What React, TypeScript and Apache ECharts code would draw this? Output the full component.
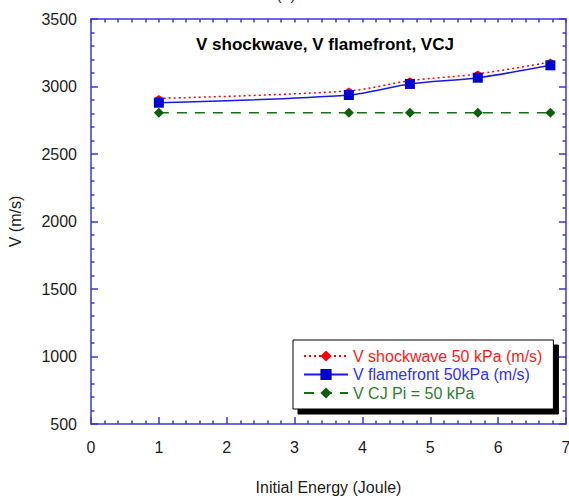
import React, { useEffect, useRef } from "react";
import * as echarts from "echarts";

const xValues = [1, 3.8, 4.7, 5.7, 6.77];
const shockwave = [2912, 2967, 3043, 3093, 3181];
const flamefront = [2880, 2937, 3019, 3065, 3157];
const vcj = [2805, 2805, 2805, 2805, 2805];

const seriesNames = [
  "V shockwave 50 kPa (m/s)",
  "V flamefront 50kPa (m/s)",
  "V CJ Pi = 50 kPa",
];

const FONT = "'Liberation Sans', Arial, sans-serif";
const AXIS_BLUE = "#3838d8";
const TEXT = "#1c1c1c";

export default function App() {
  const ref = useRef<HTMLDivElement>(null);

  useEffect(() => {
    if (!ref.current) return;
    const chart = echarts.init(ref.current, null, { renderer: "svg" });

    const pair = (ys: number[]) => xValues.map((x, i) => [x, ys[i]]);

    const tickStyle = { color: AXIS_BLUE, width: 1.5 };

    const baseX = {
      type: "value",
      min: 0,
      max: 7,
      interval: 1,
      splitLine: { show: false },
      minorSplitLine: { show: false },
      axisLine: { show: true, onZero: false, lineStyle: { color: AXIS_BLUE, width: 1.5 } },
    };
    const baseY = {
      type: "value",
      min: 500,
      max: 3500,
      interval: 500,
      splitLine: { show: false },
      minorSplitLine: { show: false },
      axisLine: { show: true, onZero: false, lineStyle: { color: AXIS_BLUE, width: 1.5 } },
    };

    chart.setOption({
      animation: false,
      backgroundColor: "#ffffff",
      textStyle: { fontFamily: FONT },
      title: {
        text: "V shockwave, V flamefront, VCJ",
        left: 196,
        top: 36,
        padding: 0,
        textStyle: { fontFamily: FONT, fontSize: 17, fontWeight: "bold", color: "#000" },
      },
      graphic: [
        {
          type: "text",
          x: 286,
          y: 2,
          style: {
            text: "(a)",
            fontFamily: FONT,
            fontSize: 16,
            fill: "#333",
            align: "center",
            verticalAlign: "bottom",
          },
        },
      ],
      grid: {
        left: 91,
        right: 3,
        top: 19,
        bottom: 72,
        containLabel: false,
        outerBoundsMode: "none",
      },
      xAxis: [
        {
          ...baseX,
          position: "bottom",
          name: "Initial Energy (Joule)",
          nameLocation: "middle",
          nameGap: 55,
          nameTextStyle: { fontFamily: FONT, fontSize: 16, color: TEXT },
          axisTick: { show: true, inside: true, length: 7, lineStyle: tickStyle },
          minorTick: { show: true, splitNumber: 5, length: 3.5, lineStyle: tickStyle },
          axisLabel: {
            margin: 15,
            fontFamily: FONT,
            fontSize: 16,
            color: TEXT,
            hideOverlap: false,
            formatter: (v: number) => String(v),
          },
        },
        {
          ...baseX,
          position: "top",
          axisTick: { show: true, inside: true, length: 3.5, lineStyle: tickStyle },
          minorTick: { show: true, splitNumber: 5, length: 3.5, lineStyle: tickStyle },
          axisLabel: { show: false },
        },
      ],
      yAxis: [
        {
          ...baseY,
          position: "left",
          name: "V (m/s)",
          nameLocation: "middle",
          nameGap: 68,
          nameTextStyle: { fontFamily: FONT, fontSize: 16, color: TEXT },
          axisTick: { show: true, inside: true, length: 7, lineStyle: tickStyle },
          minorTick: { show: true, splitNumber: 5, length: 3.5, lineStyle: tickStyle },
          axisLabel: {
            margin: 14,
            fontFamily: FONT,
            fontSize: 16,
            color: TEXT,
            formatter: (v: number) => String(v),
          },
        },
        {
          ...baseY,
          position: "right",
          axisTick: { show: true, inside: true, length: 7, lineStyle: tickStyle },
          minorTick: { show: true, splitNumber: 5, length: 3.5, lineStyle: tickStyle },
          axisLabel: { show: false },
        },
      ],
      legend: {
        orient: "vertical",
        left: 293,
        top: 340,
        padding: [8, 11, 8, 10],
        itemWidth: 44,
        itemHeight: 14,
        itemGap: 2.5,
        backgroundColor: "#ffffff",
        borderColor: "#000000",
        borderWidth: 1,
        shadowColor: "#000000",
        shadowBlur: 0,
        shadowOffsetX: 5,
        shadowOffsetY: 5,
        textStyle: { fontFamily: FONT, fontSize: 16, lineHeight: 16 },
        data: [
          { name: seriesNames[0], textStyle: { color: "#ff1a1a" } },
          { name: seriesNames[1], textStyle: { color: "#3030ff" } },
          { name: seriesNames[2], textStyle: { color: "#2e7d2e" } },
        ],
      },
      series: [
        {
          name: seriesNames[0],
          type: "line",
          xAxisIndex: 0,
          yAxisIndex: 0,
          data: pair(shockwave),
          smooth: 0.3,
          symbol: "diamond",
          symbolSize: [10, 7],
          itemStyle: { color: "#ff0000" },
          lineStyle: { color: "#ff0000", width: 1.5, type: [2, 3] },
          z: 2,
        },
        {
          name: seriesNames[1],
          type: "line",
          xAxisIndex: 0,
          yAxisIndex: 0,
          data: pair(flamefront),
          smooth: 0.3,
          symbol: "rect",
          symbolSize: 10,
          itemStyle: { color: "#0000d0" },
          lineStyle: { color: "#1a1ae0", width: 1.5, type: "solid" },
          z: 3,
        },
        {
          name: seriesNames[2],
          type: "line",
          xAxisIndex: 0,
          yAxisIndex: 0,
          data: pair(vcj),
          symbol: "diamond",
          symbolSize: 10,
          itemStyle: { color: "#0b5e0b" },
          lineStyle: { color: "#137013", width: 1.5, type: [10, 8] },
          z: 4,
        },
      ],
    });

    return () => chart.dispose();
  }, []);

  return (
    <div
      ref={ref}
      style={{ position: "fixed", left: 0, top: 0, width: 569, height: 496 }}
    />
  );
}
